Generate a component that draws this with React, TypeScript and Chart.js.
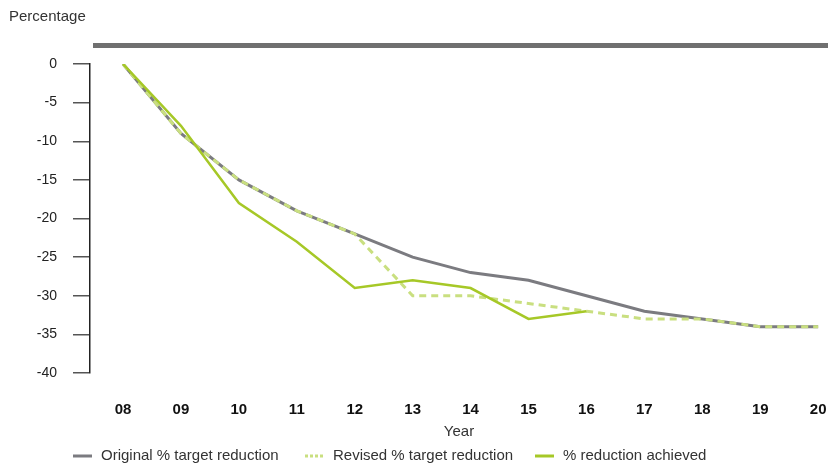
import React, { useEffect, useRef } from "react";
import { Chart, registerables } from "chart.js";

Chart.register(...registerables);

const years = ["08", "09", "10", "11", "12", "13", "14", "15", "16", "17", "18", "19", "20"];
const original = [0, -9, -15, -19, -22, -25, -27, -28, -30, -32, -33, -34, -34];
const revised = [0, -9, -15, -19, -22, -30, -30, -31, -32, -33, -33, -34, -34];
const achieved = [0, -8, -18, -23, -29, -28, -29, -33, -32];
const seriesNames = ["Original % target reduction", "Revised % target reduction", "% reduction achieved"];
const yAxisTitle = "Percentage";
const xAxisTitle = "Year";

const GRAY = "#7b7b80";
const LIGHT_GREEN = "#c9df80";
const GREEN = "#a6c827";
const FONT = "'Liberation Sans', Arial, sans-serif";

const toPoints = (arr: number[]) => arr.map((v, i) => ({ x: i + 8, y: v }));

const decorPlugin = {
  id: "decor",
  afterDraw(chart: any) {
    const ctx = chart.ctx;
    const area = chart.chartArea;
    ctx.save();
    ctx.fillStyle = "#333";
    ctx.font = `15px ${FONT}`;
    ctx.textBaseline = "middle";
    ctx.textAlign = "left";
    ctx.fillText(yAxisTitle, 9, 17);
    ctx.fillStyle = "#707070";
    ctx.fillRect(93, 43, chart.width - 93, 5);
    ctx.fillStyle = "#333";
    ctx.textAlign = "center";
    ctx.fillText(xAxisTitle, (area.left + area.right) / 2, 432);
    const ly = 456;
    const items = [
      { x: 73, color: GRAY, dash: [] as number[], tx: 101 },
      { x: 305, color: LIGHT_GREEN, dash: [3, 2], tx: 333 },
      { x: 535, color: GREEN, dash: [] as number[], tx: 563 },
    ];
    items.forEach((it, i) => {
      ctx.beginPath();
      ctx.strokeStyle = it.color;
      ctx.lineWidth = 3;
      ctx.setLineDash(it.dash);
      ctx.moveTo(it.x, ly);
      ctx.lineTo(it.x + 19, ly);
      ctx.stroke();
      ctx.setLineDash([]);
      ctx.fillStyle = "#333";
      ctx.textAlign = "left";
      ctx.fillText(seriesNames[i], it.tx, ly);
    });
    ctx.restore();
  },
};

export default function App() {
  const ref = useRef<HTMLCanvasElement>(null);
  useEffect(() => {
    if (!ref.current) return;
    const chart = new Chart(ref.current, {
      type: "line",
      data: {
        datasets: [
          {
            label: seriesNames[0],
            data: toPoints(original),
            borderColor: GRAY,
            borderWidth: 3,
            pointRadius: 0,
            tension: 0,
            order: 2,
          },
          {
            label: seriesNames[1],
            data: toPoints(revised),
            borderColor: LIGHT_GREEN,
            borderWidth: 3,
            borderDash: [7, 5],
            pointRadius: 0,
            tension: 0,
            order: 1,
          },
          {
            label: seriesNames[2],
            data: toPoints(achieved),
            borderColor: GREEN,
            borderWidth: 2.5,
            pointRadius: 0,
            tension: 0,
            order: 0,
          },
        ],
      },
      options: {
        animation: false,
        responsive: false,
        maintainAspectRatio: false,
        layout: { padding: { top: 64, left: 0, right: 0, bottom: 0 } },
        plugins: { legend: { display: false }, tooltip: { enabled: false } },
        scales: {
          x: {
            type: "linear",
            min: 7.43,
            max: 20.17,
            grid: { display: false },
            border: { display: false },
            afterBuildTicks: (scale: any) => {
              scale.ticks = years.map((_, i) => ({ value: i + 8 }));
            },
            afterFit: (scale: any) => {
              scale.height = 90;
              scale.paddingLeft = 0;
              scale.paddingRight = 0;
            },
            ticks: {
              padding: 20,
              color: "#111",
              font: { family: FONT, size: 15, weight: "bold" },
              callback: (v: any) => years[Number(v) - 8] ?? "",
            },
          },
          y: {
            min: -40,
            max: 0,
            afterFit: (scale: any) => {
              scale.width = 90;
              scale.paddingTop = 0;
              scale.paddingBottom = 0;
            },
            grid: {
              display: true,
              drawOnChartArea: false,
              drawTicks: true,
              tickLength: 17,
              color: "#555",
              lineWidth: 1.5,
            },
            border: { display: true, color: "#222", width: 1.5 },
            ticks: {
              stepSize: 5,
              padding: 16,
              color: "#222",
              font: { family: FONT, size: 14 },
            },
          },
        },
      },
      plugins: [decorPlugin],
    } as any);
    return () => chart.destroy();
  }, []);
  return (
    <div style={{ position: "fixed", left: 0, top: 0, width: 828, height: 463, background: "#fff" }}>
      <canvas ref={ref} width={828} height={463} style={{ display: "block", width: 828, height: 463 }} />
    </div>
  );
}
